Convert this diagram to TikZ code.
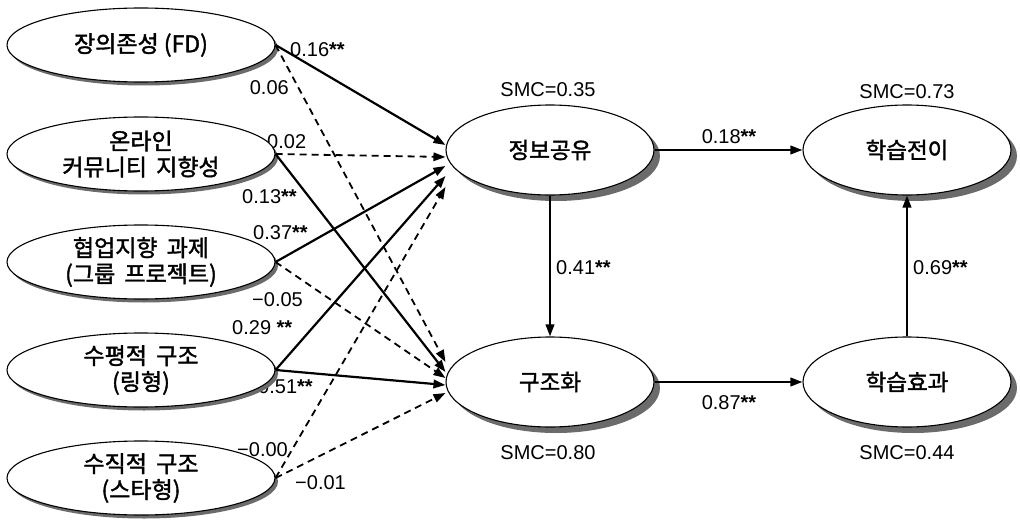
\documentclass[tikz,border=0pt]{standalone}
\usepackage{fontspec}
\setmainfont{Liberation Sans}
\newfontfamily\kr[FakeBold=1.6]{Noto Sans CJK KR}
\usetikzlibrary{shapes.geometric,arrows.meta,shadows}

\begin{document}
\begin{tikzpicture}[x=1pt,y=-1pt,
  oval/.style={ellipse, draw, line width=1.1pt, fill=white, inner sep=0pt, align=center},
  lat/.style={oval, minimum width=268pt, minimum height=74pt,
    font=\kr\fontsize{23}{26}\selectfont,
    drop shadow={shadow xshift=3pt, shadow yshift=-3.5pt, fill=black!58, opacity=1}},
  endo/.style={oval, minimum width=208pt, minimum height=90pt,
    font=\kr\fontsize{22.5}{26}\selectfont,
    drop shadow={shadow xshift=6pt, shadow yshift=-6pt, fill=black!58, opacity=1}},
  tip/.tip={Triangle[length=12pt,width=8.5pt]},
  sig/.style={line width=2.2pt, -tip},
  ns/.style={line width=1.8pt, dash pattern=on 7pt off 5pt, -tip},
  coef/.style={font=\fontsize{20}{20}\selectfont, inner sep=0pt}]

\useasboundingbox (0,0) rectangle (1020,524);

% path coefficients of the exogenous factors
\node[coef, anchor=west] (c1) at (290,50) {0.16\textbf{**}};
\node[coef, anchor=east] (c2) at (289,88) {0.06};
\node[coef, anchor=west] (c3) at (267,142) {0.02};
\node[coef, anchor=west] (c4) at (242,197) {0.13\textbf{**}};
\node[coef, anchor=west] (c5) at (253,233) {0.37\textbf{**}};
\node[coef, anchor=west] (c6) at (252,300) {−0.05};
\node[coef, anchor=west] (c7) at (232,328) {0.29 \textbf{**}};
\node[coef, anchor=west] (c8) at (258,387) {0.51\textbf{**}};
\node[coef, anchor=west] (c9) at (237,450) {−0.00};
\node[coef, anchor=west] (c10) at (295,483) {−0.01};

% exogenous factors
\node[lat] (fd) at (141,45) {장의존성 (FD)};
\node[lat] (oc) at (141,154) {온라인\\커뮤니티\hspace{0.4em}지향성};
\node[lat] (cw) at (141,262) {협업지향\hspace{0.4em}과제\\(그룹\hspace{0.4em}프로젝트)};
\node[lat] (hs) at (141,370) {수평적\hspace{0.4em}구조\\(링형)};
\node[lat] (vs) at (141,478) {수직적\hspace{0.4em}구조\\(스타형)};

% endogenous factors
\node[endo] (info) at (550,150) {정보공유};
\node[endo] (struct) at (550,382) {구조화};
\node[endo] (transfer) at (907,150) {학습전이};
\node[endo] (effect) at (907,382) {학습효과};

% squared multiple correlations
\node[coef] (s1) at (548,90) {SMC=0.35};
\node[coef] (s2) at (907,92) {SMC=0.73};
\node[coef] (s3) at (548,453) {SMC=0.80};
\node[coef] (s4) at (907,453) {SMC=0.44};

% paths into information sharing
\draw[sig] (fd.east) -- ([yshift=5pt]info.west);
\draw[ns]  (oc.east) -- ([yshift=-7pt]info.west);
\draw[sig] (cw.east) -- ([yshift=-16pt]info.west);
\draw[sig] (hs.east) -- ([yshift=-26pt]info.west);
\draw[ns]  (vs.east) -- ([yshift=-37pt]info.west);

% paths into structuring
\draw[ns]  (fd.east) -- ([yshift=20pt]struct.west);
\draw[sig] (oc.east) -- ([yshift=10pt]struct.west);
\draw[ns]  (cw.east) -- ([yshift=4pt]struct.west);
\draw[sig] (hs.east) -- ([yshift=-3pt]struct.west);
\draw[ns]  (vs.east) -- ([yshift=-11pt]struct.west);

% paths among the endogenous factors
\draw[sig] (info.east) -- (transfer.west);
\draw[sig] (struct.east) -- (effect.west);
\draw[sig] (info.south) -- (struct.north);
\draw[sig] (effect.north) -- (transfer.south);

\node[coef] (c11) at (729,137) {0.18\textbf{**}};
\node[coef] (c12) at (729,403) {0.87\textbf{**}};
\node[coef, anchor=west] (c13) at (556,268) {0.41\textbf{**}};
\node[coef, anchor=west] (c14) at (913,268) {0.69\textbf{**}};
\end{tikzpicture}
\end{document}
